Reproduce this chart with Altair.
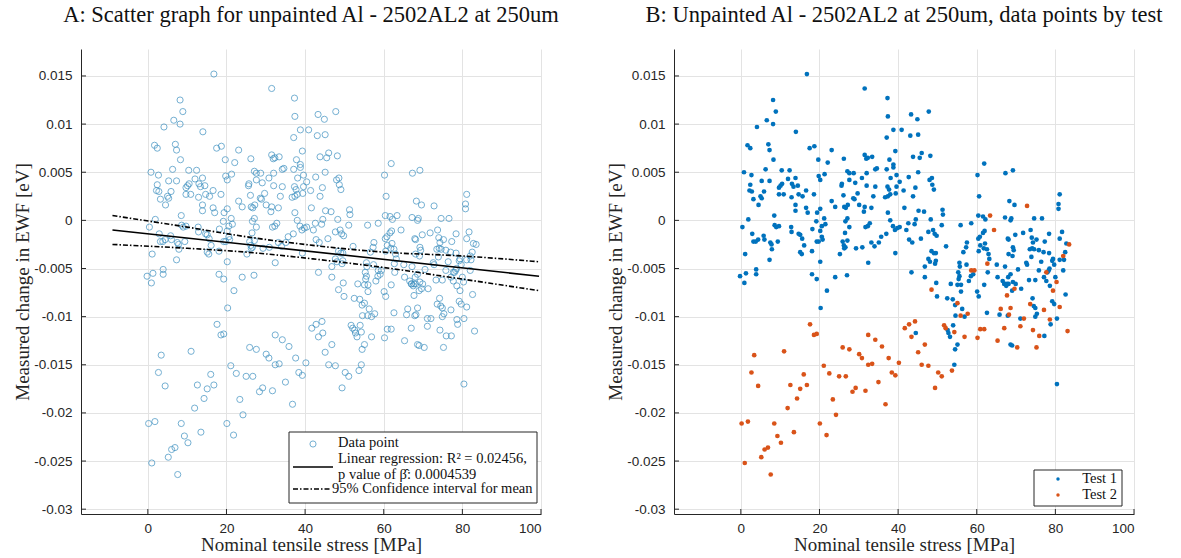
import altair as alt
import pandas as pd

# ---------------- data ----------------
t1_x = [16.8,31.5,8.2,8.9,6.6,8.2,4.1,14.0,1.7,2.4,7.0,7.3,17.5,18.7,23.1,8.3,19.7,22.1,26.2,31.5,31.9,0.8,2.7,6.3,10.4,12.4,12.0,13.9,5.3,7.3,2.4,2.2,2.8,5.9,3.2,5.0,5.3,4.5,9.7,10.1,10.5,9.7,10.9,13.0,13.4,14.5,12.9,14.7,15.7,16.6,18.6,13.9,13.9,16.6,17.0,19.4,20.2,19.8,20.2,21.3,27.1,27.6,28.7,30.8,32.0,25.7,25.6,27.6,29.1,32.0,29.7,26.1,28.6,28.9,23.1,24.0,26.3,26.7,27.2,30.1,31.5,31.3,8.5,1.9,21.2,27.1,
        0.4,8.6,9.0,9.7,12.8,12.9,14.7,15.1,15.6,18.2,19.2,20.6,20.2,21.5,2.9,5.8,6.0,4.4,3.2,3.8,7.5,7.8,7.9,9.4,1.1,7.3,15.1,15.5,16.1,18.1,19.3,19.8,20.6,20.8,20.2,-0.2,1.3,0.9,3.9,3.9,18.1,19.3,21.9,20.3,24.0,27.0,25.2,25.9,26.2,26.3,26.6,27.1,29.3,30.9,32.4,26.5,27.6,26.6,31.7,32.3,
        37.3,37.4,43.3,44.9,47.8,38.8,40.9,37.1,43.1,45.1,32.3,33.4,39.3,37.8,38.8,38.8,43.8,45.5,46.0,48.2,34.2,34.6,37.1,45.1,38.1,39.6,42.7,48.6,48.0,34.2,37.3,37.7,39.6,40.4,44.4,48.7,49.1,41.4,39.4,38.0,37.4,36.7,33.7,43.8,61.9,60.2,67.3,60.6,68.3,33.2,41.6,37.4,45.2,46.6,51.3,51.4,60.4,61.6,67.2,
        32.8,38.0,38.7,35.7,37.0,39.2,39.8,40.4,42.6,44.2,44.5,42.1,42.8,43.6,45.8,47.7,48.9,49.3,49.8,48.3,51.1,52.2,55.9,58.6,57.5,57.3,56.6,60.4,60.8,61.6,62.0,62.2,60.5,61.8,62.6,63.0,62.1,60.9,63.2,67.9,34.0,33.2,35.1,39.3,48.5,49.1,49.6,47.7,48.1,46.8,49.6,49.4,55.6,55.7,57.4,62.8,65.1,67.2,65.3,43.4,46.8,55.3,55.6,55.4,58.5,59.1,58.0,56.0,49.7,53.4,55.1,56.0,60.1,60.5,61.9,66.6,67.0,67.7,49.9,52.5,53.9,54.5,56.3,54.6,56.9,62.6,65.8,54.0,52.6,52.8,53.2,55.1,54.5,54.3,44.5,
        69.2,81.1,80.8,80.8,69.6,68.8,74.6,76.6,
        68.6,68.1,69.8,71.8,73.7,74.0,74.3,75.2,77.3,78.4,81.1,81.7,82.8,82.5,69.2,69.4,68.1,69.1,73.5,74.1,74.6,75.8,77.0,78.4,73.9,72.6,72.8,76.4,79.4,79.2,79.7,81.1,82.2,70.5,68.6,68.0,75.8,78.5,78.3,78.0,82.0,73.3,74.9,77.1,80.0,77.7,78.6,67.1,67.5,68.1,69.2,69.9,69.0,71.3,82.6,74.2,74.5,74.9,79.2,79.7,67.9,75.3,74.9,71.1,80.4,78.8,77.2,68.6,69.0,80.4]
t1_y = [0.0152,0.0137,0.0125,0.0113,0.0104,0.0100,0.0097,0.0092,0.0078,0.0075,0.0079,0.0073,0.0075,0.0077,0.0073,0.0063,0.0063,0.0060,0.0064,0.0068,0.0064,0.0050,0.0047,0.0053,0.0052,0.0052,0.0043,0.0044,0.0041,0.0041,0.0037,0.0031,0.0030,0.0030,0.0022,0.0025,0.0023,0.0016,0.0034,0.0036,0.0038,0.0027,0.0027,0.0038,0.0035,0.0036,0.0024,0.0027,0.0025,0.0031,0.0027,0.0016,0.0010,0.0013,0.0008,0.0008,0.0012,0.0046,0.0042,0.0048,0.0051,0.0049,0.0049,0.0044,0.0049,0.0038,0.0036,0.0042,0.0039,0.0036,0.0028,0.0026,0.0023,0.0022,0.0020,0.0014,0.0014,0.0013,0.0016,0.0016,0.0014,0.0009,0.0005,0.0001,0.0002,0.0002,
        -0.0007,-0.0005,-0.0007,-0.0006,-0.0007,-0.0012,-0.0014,-0.0015,-0.0019,-0.0009,-0.0001,-0.0006,-0.0011,-0.0004,-0.0014,-0.0016,-0.0020,-0.0020,-0.0022,-0.0022,-0.0023,-0.0025,-0.0030,-0.0022,-0.0035,-0.0041,-0.0033,-0.0035,-0.0026,-0.0032,-0.0022,-0.0022,-0.0017,-0.0020,-0.0043,-0.0058,-0.0055,-0.0065,-0.0051,-0.0056,-0.0056,-0.0061,-0.0073,-0.0091,-0.0059,-0.0057,-0.0035,-0.0022,-0.0026,-0.0029,-0.0028,-0.0021,-0.0029,-0.0028,-0.0044,-0.0013,-0.0007,-0.0001,-0.0007,-0.0006,
        0.0127,0.0108,0.0110,0.0105,0.0113,0.0094,0.0094,0.0086,0.0088,0.0089,0.0065,0.0066,0.0072,0.0063,0.0058,0.0055,0.0066,0.0065,0.0070,0.0067,0.0053,0.0054,0.0053,0.0050,0.0044,0.0047,0.0045,0.0044,0.0042,0.0035,0.0035,0.0032,0.0035,0.0040,0.0034,0.0037,0.0032,0.0031,0.0028,0.0027,0.0025,0.0024,0.0025,0.0025,0.0059,0.0047,0.0049,0.0025,0.0020,0.0013,0.0013,0.0008,0.0010,0.0009,0.0011,0.0006,0.0005,0.0004,0.0003,
        -0.0003,0.0000,-0.0006,-0.0017,-0.0014,-0.0010,-0.0008,-0.0007,-0.0003,-0.0004,0.0001,-0.0010,-0.0020,-0.0023,-0.0019,-0.0012,-0.0010,-0.0014,-0.0016,0.0001,-0.0005,-0.0027,-0.0005,-0.0003,-0.0023,-0.0028,-0.0033,-0.0019,-0.0017,-0.0013,-0.0011,0.0001,-0.0032,-0.0029,-0.0030,-0.0035,-0.0024,-0.0026,-0.0040,-0.0019,-0.0027,-0.0023,-0.0023,-0.0034,-0.0032,-0.0034,-0.0034,-0.0040,-0.0043,-0.0048,-0.0042,-0.0045,-0.0044,-0.0048,-0.0046,-0.0054,-0.0046,-0.0048,-0.0059,-0.0054,-0.0059,-0.0054,-0.0058,-0.0061,-0.0058,-0.0056,-0.0063,-0.0067,-0.0065,-0.0066,-0.0067,-0.0074,-0.0074,-0.0079,-0.0067,-0.0063,-0.0066,-0.0066,-0.0079,-0.0081,-0.0082,-0.0088,-0.0092,-0.0099,-0.0100,-0.0096,-0.0098,-0.0109,-0.0114,-0.0117,-0.0121,-0.0129,-0.0134,-0.0150,-0.0117,
        0.0052,0.0027,0.0017,0.0012,0.0016,0.0002,0.0002,0.0002,
        0.0000,-0.0020,-0.0015,-0.0013,-0.0010,-0.0018,-0.0023,-0.0020,-0.0022,-0.0014,-0.0019,-0.0012,-0.0024,-0.0033,-0.0028,-0.0031,-0.0035,-0.0037,-0.0030,-0.0029,-0.0030,-0.0031,-0.0033,-0.0034,-0.0038,-0.0044,-0.0046,-0.0043,-0.0040,-0.0042,-0.0046,-0.0041,-0.0041,-0.0051,-0.0056,-0.0059,-0.0052,-0.0050,-0.0052,-0.0054,-0.0052,-0.0062,-0.0062,-0.0059,-0.0059,-0.0063,-0.0068,-0.0066,-0.0068,-0.0066,-0.0064,-0.0066,-0.0073,-0.0071,-0.0077,-0.0081,-0.0089,-0.0091,-0.0084,-0.0087,-0.0099,-0.0097,-0.0100,-0.0102,-0.0102,-0.0108,-0.0120,-0.0129,-0.0130,-0.0170]

t2_x = [63.4,72.8,
        17.6,18.6,19.3,32.4,3.4,11.0,25.9,27.6,30.1,30.8,21.1,
        22.5,25.0,26.7,32.4,2.7,4.4,16.0,12.6,15.1,16.8,14.3,11.9,0.2,1.8,8.5,9.3,10.2,13.5,6.9,6.05,5.2,1.0,7.6,20.1,21.8,23.4,24.2,28.4,29.2,31.7,
        64.4,58.6,59.4,62.7,67.7,48.5,55.1,55.9,57.7,66.1,68.2,54.3,56.9,60.2,60.9,61.9,65.3,67.0,42.8,44.3,41.7,43.4,51.7,52.1,46.8,45.1,34.2,35.9,33.4,37.6,40.2,46.0,47.7,
        38.4,39.3,35.0,36.8,50.2,51.1,49.4,53.7,
        83.5,82.0,77.7,80.3,69.6,79.4,73.6,81.1,77.1,68.6,72.0,78.6,71.1,74.3,83.1,75.9,70.3,75.2]
t2_y = [0.0005,0.0015,
        -0.0108,-0.0119,-0.0118,-0.0119,-0.0140,-0.0136,-0.0132,-0.0134,-0.0139,-0.0143,-0.0151,
        -0.0159,-0.0162,-0.0162,-0.0150,-0.0158,-0.0172,-0.0160,-0.0171,-0.0175,-0.0171,-0.0185,-0.0195,-0.0211,-0.0209,-0.0211,-0.0224,-0.0231,-0.0220,-0.0236,-0.0238,-0.0246,-0.0252,-0.0264,-0.0211,-0.0223,-0.0186,-0.0202,-0.0178,-0.0174,-0.0177,
        -0.0010,-0.0052,-0.0052,-0.0045,-0.0078,-0.0072,-0.0086,-0.0099,-0.0097,-0.0092,-0.0098,-0.0116,-0.0121,-0.0122,-0.0113,-0.0113,-0.0125,-0.0112,-0.0108,-0.0105,-0.0112,-0.0121,-0.0109,-0.0112,-0.0129,-0.0137,-0.0124,-0.0131,-0.0149,-0.0143,-0.0148,-0.0150,-0.0151,
        -0.0158,-0.0161,-0.0168,-0.0191,-0.0158,-0.0162,-0.0174,-0.0156,
        -0.0025,-0.0037,-0.0054,-0.0064,-0.0071,-0.0073,-0.0087,-0.0090,-0.0093,-0.0091,-0.0102,-0.0103,-0.0110,-0.0114,-0.0115,-0.0120,-0.0132,-0.0132]

reg_x = [-9, 99.5]
reg_y = [-0.0010, -0.0058]
ci_x = [-9, 10, 25, 42, 60, 80, 99.5]
ci_upper = [0.0005, -0.0007, -0.0017, -0.0026, -0.0033, -0.0037, -0.0043]
ci_lower = [-0.0025, -0.0029, -0.0033, -0.0040, -0.0049, -0.0061, -0.0073]

x_ticks = [0, 20, 40, 60, 80, 100]
y_ticks = [-0.03, -0.025, -0.02, -0.015, -0.01, -0.005, 0, 0.005, 0.01, 0.015]
series_names = ["Test 1", "Test 2"]
legend_a_lines = ["Data point", "Linear regression: R\u00b2 = 0.02456,", "p value of \u03b2\u0302: 0.0004539", "95% Confidence interval for mean"]

# ---------------- styling ----------------
W, H = 460, 465
X_DOMAIN = [-17, 100]
Y_DOMAIN = [-0.0305, 0.0178]
BLUE = "#0072BD"
ORANGE = "#D95319"
CIRC = "#3b8fc0"
AX = "#262626"
SERIF = "Liberation Serif"
SANS = "Liberation Sans"

df1 = pd.DataFrame({"x": t1_x, "y": t1_y, "test": series_names[0]})
df2 = pd.DataFrame({"x": t2_x, "y": t2_y, "test": series_names[1]})
df_all = pd.concat([df1, df2], ignore_index=True)
reg_df = pd.DataFrame({"x": reg_x, "y": reg_y})
ci_df = pd.DataFrame({"x": ci_x + ci_x, "y": ci_upper + ci_lower,
                      "side": ["up"] * len(ci_x) + ["low"] * len(ci_x)})
xt_df = pd.DataFrame({"x": x_ticks})
yt_df = pd.DataFrame({"y": y_ticks})

xs = alt.Scale(domain=X_DOMAIN, nice=False, zero=False)
ys = alt.Scale(domain=Y_DOMAIN, nice=False, zero=False)

x_axis = alt.Axis(values=x_ticks, grid=True, gridColor="#e3e3e3", gridWidth=1,
                  domainColor=AX, domainWidth=1, tickSize=0, labelFont=SANS, labelFontSize=13.5,
                  labelColor=AX, labelPadding=7, title="Nominal tensile stress [MPa]",
                  titleFont=SERIF, titleFontSize=19, titleFontWeight="normal", titleColor=AX,
                  titlePadding=1)
y_axis = alt.Axis(values=y_ticks, grid=True, gridColor="#e3e3e3", gridWidth=1,
                  domainColor=AX, domainWidth=1, tickSize=0, labelFont=SANS, labelFontSize=13.5,
                  labelColor=AX, labelPadding=9, labelExpr="'' + datum.value",
                  title="Measured change in EWF [eV]", titleFont=SERIF, titleFontSize=19,
                  titleFontWeight="normal", titleColor=AX, titlePadding=1)

X = lambda: alt.X("x:Q", scale=xs, axis=x_axis)
Y = lambda: alt.Y("y:Q", scale=ys, axis=y_axis)


def ticks():
    xt = alt.Chart(xt_df).mark_rule(color=AX, strokeWidth=1).encode(
        x=X(), y=alt.value(H), y2=alt.value(H - 5))
    yt = alt.Chart(yt_df).mark_rule(color=AX, strokeWidth=1).encode(
        y=Y(), x=alt.value(0), x2=alt.value(5))
    return xt + yt


def text(t, x, y, align="left", size=14.5):
    return alt.Chart(pd.DataFrame({"t": [t]})).mark_text(
        font=SERIF, fontSize=size, align=align, baseline="middle", color="#111111").encode(
        text="t:N", x=alt.value(x), y=alt.value(y))


def box(x1, x2, y1, y2):
    return alt.Chart(pd.DataFrame({"a": [0]})).mark_rect(
        fill="white", stroke=AX, strokeWidth=1).encode(
        x=alt.value(x1), x2=alt.value(x2), y=alt.value(y1), y2=alt.value(y2))


# ---------------- panel A ----------------
scatter_a = alt.Chart(df_all).mark_point(shape="circle", filled=False, size=38,
                                         strokeWidth=1, color=CIRC).encode(x=X(), y=Y())
reg = alt.Chart(reg_df).mark_line(color="black", strokeWidth=1.6).encode(x=X(), y=Y())
ci = alt.Chart(ci_df).mark_line(color="black", strokeWidth=1.6, strokeDash=[5, 2, 1.5, 2],
                                interpolate="monotone").encode(x=X(), y=Y(), detail="side:N")

leg_a = (box(208, 456, 383, 454)
         + alt.Chart(pd.DataFrame({"a": [0]})).mark_point(shape="circle", filled=False, size=38,
                                                         color=CIRC, strokeWidth=1).encode(
             x=alt.value(232), y=alt.value(395))
         + alt.Chart(pd.DataFrame({"a": [0]})).mark_rule(color="black", strokeWidth=1.6).encode(
             x=alt.value(212), x2=alt.value(252), y=alt.value(418))
         + alt.Chart(pd.DataFrame({"a": [0]})).mark_rule(color="black", strokeWidth=1.6,
                                                        strokeDash=[5, 2, 1.5, 2]).encode(
             x=alt.value(212), x2=alt.value(249), y=alt.value(440))
         + text(legend_a_lines[0], 257, 394)
         + text(legend_a_lines[1], 257, 410)
         + text(legend_a_lines[2], 257, 426)
         + text(legend_a_lines[3], 251, 440))

panel_a = alt.layer(scatter_a, reg, ci, ticks(), leg_a).properties(
    width=W, height=H,
    title=alt.TitleParams("A: Scatter graph for unpainted Al - 2502AL2 at 250um", font=SERIF,
                          fontSize=22.5, fontWeight="normal", color="#111111", anchor="middle",
                          offset=23))

# ---------------- panel B ----------------
dots1 = alt.Chart(df1).mark_circle(size=22, opacity=1, color=BLUE).encode(x=X(), y=Y())
dots2 = alt.Chart(df2).mark_circle(size=22, opacity=1, color=ORANGE).encode(x=X(), y=Y())
leg_b = (box(360, 448, 421, 457)
         + alt.Chart(pd.DataFrame({"a": [0]})).mark_circle(size=12, opacity=1, color=BLUE).encode(
             x=alt.value(384), y=alt.value(430))
         + alt.Chart(pd.DataFrame({"a": [0]})).mark_circle(size=12, opacity=1, color=ORANGE).encode(
             x=alt.value(384), y=alt.value(446))
         + text(series_names[0], 443, 430, align="right")
         + text(series_names[1], 443, 446, align="right"))

panel_b = alt.layer(dots1, dots2, ticks(), leg_b).properties(
    width=W, height=H,
    title=alt.TitleParams("B: Unpainted Al - 2502AL2 at 250um, data points by test", font=SERIF,
                          fontSize=22.5, fontWeight="normal", color="#111111", anchor="middle",
                          offset=23))

chart = alt.hconcat(panel_a, panel_b, spacing=133, bounds="flush").properties(
    padding={"left": 13, "top": 3, "right": 5, "bottom": 2},
    background="white",
).configure_view(stroke=None)

chart.save("out.html", embed_options={"renderer": "svg", "actions": False})
